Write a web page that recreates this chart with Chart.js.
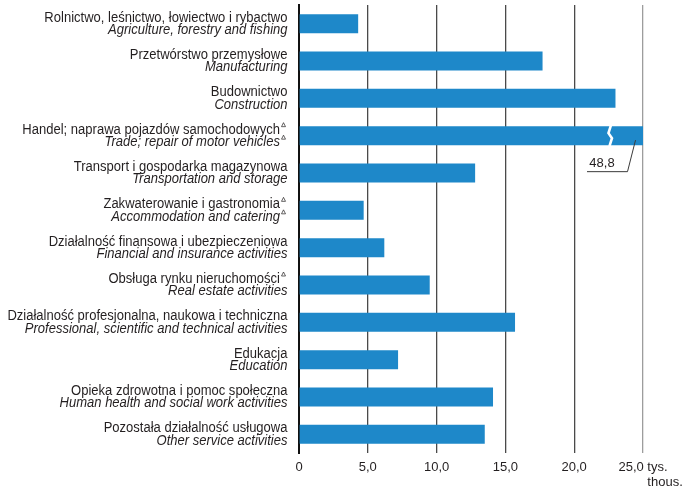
<!DOCTYPE html>
<html>
<head>
<meta charset="utf-8">
<script src="https://cdn.jsdelivr.net/npm/chart.js@4"></script>
<style>
  body { margin: 0; background: #fff; }
  #wrap { width: 682px; height: 492px; }
</style>
</head>
<body>
<div id="wrap"><canvas id="chart" width="682" height="492"></canvas></div>
<script>
// Dane wykresu
const plLabels = [
    "Rolnictwo, leśnictwo, łowiectwo i rybactwo",
    "Przetwórstwo przemysłowe",
    "Budownictwo",
    "Handel; naprawa pojazdów samochodowych",
    "Transport i gospodarka magazynowa",
    "Zakwaterowanie i gastronomia",
    "Działalność finansowa i ubezpieczeniowa",
    "Obsługa rynku nieruchomości",
    "Działalność profesjonalna, naukowa i techniczna",
    "Edukacja",
    "Opieka zdrowotna i pomoc społeczna",
    "Pozostała działalność usługowa"
];
const enLabels = [
    "Agriculture, forestry and fishing",
    "Manufacturing",
    "Construction",
    "Trade; repair of motor vehicles",
    "Transportation and storage",
    "Accommodation and catering",
    "Financial and insurance activities",
    "Real estate activities",
    "Professional, scientific and technical activities",
    "Education",
    "Human health and social work activities",
    "Other service activities"
];
// znak Δ przy etykiecie (polska / angielska)
const plMark = [false, false, false, true, false, true, false, true, false, false, false, false];
const enMark = [false, false, false, true, false, true, false, false, false, false, false, false];
const values = [4.3, 17.7, 23.0, 48.8, 12.8, 4.7, 6.2, 9.5, 15.7, 7.2, 14.1, 13.5];
const xTicks = [0, 5, 10, 15, 20, 25];
const unitPl = "tys.";
const unitEn = "thous.";
const breakAt = 22.6;     // miejsce przerwania słupka
const breakIndex = 3;     // słupek z przerwaniem (Handel)

const FONT = "'Liberation Sans', Arial, sans-serif";
const TEXT = "#231f20";

function fmt(v) {
    if (v === 0) return "0";
    return v.toFixed(1).replace(".", ",");
}

function tinyTriangle(ctx, x, y) {
    ctx.beginPath();
    ctx.moveTo(x, y);
    ctx.lineTo(x + 4, y);
    ctx.lineTo(x + 2, y - 4);
    ctx.closePath();
    ctx.stroke();
}

// Etykiety kategorii, przerwanie słupka i opis jednostki
const decorPlugin = {
    id: "decor",
    afterDraw(chart) {
        const ctx = chart.ctx;
        const xs = chart.scales.x;
        const ys = chart.scales.y;
        ctx.save();
        ctx.fillStyle = TEXT;
        ctx.strokeStyle = TEXT;
        ctx.lineWidth = 0.7;
        ctx.textBaseline = "middle";

        plLabels.forEach((pl, i) => {
            const cy = ys.getPixelForTick(i);
            const lines = [[pl, plMark[i], cy - 6, "normal"], [enLabels[i], enMark[i], cy + 6.5, "italic"]];
            lines.forEach(([txt, mark, yy, style]) => {
                const right = mark ? 280 : 287.5;
                ctx.font = style + " 14px " + FONT;
                ctx.textAlign = "right";
                // lekko zwężony krój, jak w oryginale
                ctx.save();
                ctx.translate(right, yy);
                ctx.scale(0.93, 1);
                ctx.fillText(txt, 0, 0);
                ctx.restore();
                if (mark) tinyTriangle(ctx, right + 1.5, yy - 3);
            });
        });

        // przerwanie słupka
        const bar = chart.getDatasetMeta(0).data[breakIndex];
        const top = bar.y - bar.height / 2;
        const bottom = bar.y + bar.height / 2;
        const bx = xs.getPixelForValue(breakAt);
        ctx.strokeStyle = "#fff";
        ctx.lineWidth = 2.6;
        ctx.beginPath();
        ctx.moveTo(bx + 1, top - 1);
        ctx.lineTo(bx - 1.5, top + 7);
        ctx.lineTo(bx + 2, top + 12);
        ctx.lineTo(bx - 0.5, bottom + 1);
        ctx.stroke();

        // odnośnik z wartością
        const ex = xs.getPixelForValue(xs.max);
        ctx.strokeStyle = "#3a3a3a";
        ctx.lineWidth = 1;
        ctx.beginPath();
        ctx.moveTo(ex - 7.5, bar.y + 4.5);
        ctx.lineTo(ex - 15.5, bar.y + 36);
        ctx.lineTo(ex - 56, bar.y + 36);
        ctx.stroke();
        ctx.font = "13px " + FONT;
        ctx.textAlign = "center";
        ctx.fillText(fmt(values[breakIndex]), ex - 41, bar.y + 28);

        // jednostka - druga linia
        const last = xTicks[xTicks.length - 1];
        const px = xs.getPixelForValue(last);
        const full = fmt(last) + " " + unitPl;
        const start = px - ctx.measureText(full).width / 2 + ctx.measureText(fmt(last) + " ").width;
        ctx.textAlign = "left";
        ctx.fillText(unitEn, start, xs.top + 29.5);
        ctx.restore();
    }
};

new Chart(document.getElementById("chart"), {
    type: "bar",
    data: {
        labels: plLabels,
        datasets: [{
            data: values,
            backgroundColor: "#1e88c9",
            borderWidth: 0,
            barPercentage: 0.51,
            categoryPercentage: 1
        }]
    },
    options: {
        indexAxis: "y",
        responsive: false,
        animation: false,
        layout: { padding: { left: 0, right: 39, top: 5, bottom: 0 } },
        plugins: {
            legend: { display: false },
            tooltip: { enabled: false }
        },
        scales: {
            x: {
                min: xTicks[0],
                max: xTicks[xTicks.length - 1],
                afterFit(scale) { scale.height = 39; },
                afterBuildTicks(scale) { scale.ticks = xTicks.map(v => ({ value: v })); },
                border: { display: false },
                grid: {
                    drawTicks: false,
                    lineWidth: 1.3,
                    color: (c) => (c.tick && c.tick.value === 25 ? "#9d9d9d" : "#4a4a4a")
                },
                ticks: {
                    padding: 7,
                    maxRotation: 0,
                    autoSkip: false,
                    color: TEXT,
                    font: { family: FONT, size: 13 },
                    callback: (v) => (v === xTicks[xTicks.length - 1] ? fmt(v) + " " + unitPl : fmt(v))
                }
            },
            y: {
                afterFit(scale) { scale.width = 299; },
                grid: { display: false },
                border: { display: true, color: "#111", width: 2 },
                ticks: { display: false }
            }
        }
    },
    plugins: [decorPlugin]
});
</script>
</body>
</html>
